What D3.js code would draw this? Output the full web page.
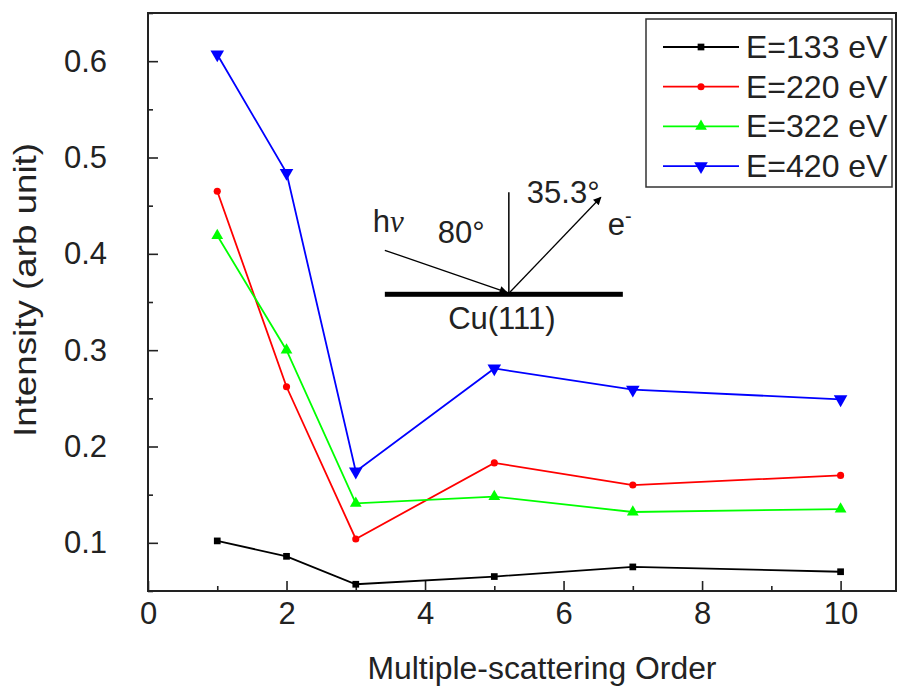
<!DOCTYPE html>
<html>
<head>
<meta charset="utf-8">
<script src="https://cdn.jsdelivr.net/npm/d3@7"></script>
<style>
  html, body { margin: 0; padding: 0; background: #fff; }
  svg { display: block; font-family: "Liberation Sans", Arial, sans-serif; }
</style>
</head>
<body>
<svg id="chart" width="897" height="688"></svg>
<script>
// multiple-scattering order
const orders = [1, 2, 3, 5, 7, 10]
// intensities (arb unit) per photon energy
const e133 = [0.102, 0.086, 0.057, 0.065, 0.075, 0.070]
const e220 = [0.465, 0.262, 0.104, 0.183, 0.160, 0.170]
const e322 = [0.419, 0.300, 0.141, 0.148, 0.132, 0.135]
const e420 = [0.607, 0.484, 0.174, 0.281, 0.259, 0.249]
const seriesNames = ['E=133 eV', 'E=220 eV', 'E=322 eV', 'E=420 eV']
const xTicks = [0, 2, 4, 6, 8, 10]
const xMinorTicks = [1, 3, 5, 7, 9]
const yTicks = [0.1, 0.2, 0.3, 0.4, 0.5, 0.6]
const yMinorTicks = [0.05, 0.15, 0.25, 0.35, 0.45, 0.55, 0.65]

const colors = ['#000000', '#ff0000', '#00ff00', '#0000ff']
const symbols = [
  { type: d3.symbolSquare, size: 45, rotate: 0 },
  { type: d3.symbolCircle, size: 40, rotate: 0 },
  { type: d3.symbolTriangle, size: 60, rotate: 0 },
  { type: d3.symbolTriangle, size: 80, rotate: 180 }
]
const series = [e133, e220, e322, e420].map((vals, i) => ({
  name: seriesNames[i],
  color: colors[i],
  symbol: symbols[i],
  points: orders.map((o, j) => ({ x: o, y: vals[j] }))
}))

const plotLeft = 148, plotRight = 896, plotTop = 13, plotBottom = 591
const textColor = '#222'

const svg = d3.select('#chart')
const x = d3.scaleLinear().domain([0, 10.8]).range([plotLeft, plotRight])
const y = d3.scaleLinear().domain([0.05, 0.65]).range([plotBottom, plotTop])

// axes, ticks pointing inward
svg.append('g')
  .attr('transform', `translate(0,${plotBottom})`)
  .call(d3.axisBottom(x).tickValues(xTicks).tickSize(-10).tickPadding(11).tickFormat(d3.format('d')))
svg.append('g')
  .attr('transform', `translate(0,${plotBottom})`)
  .call(d3.axisBottom(x).tickValues(xMinorTicks).tickSize(-5).tickFormat(''))

svg.append('g')
  .attr('transform', `translate(${plotLeft},0)`)
  .call(d3.axisLeft(y).tickValues(yTicks).tickSize(-10).tickPadding(41).tickFormat(d3.format('.1f')))
svg.append('g')
  .attr('transform', `translate(${plotLeft},0)`)
  .call(d3.axisLeft(y).tickValues(yMinorTicks).tickSize(-5).tickFormat(''))

svg.selectAll('.domain').remove()
svg.selectAll('.tick line').attr('stroke', '#222').attr('stroke-width', 1.6)
svg.selectAll('.tick text')
  .attr('font-size', 31)
  .attr('fill', textColor)
  .attr('font-family', '"Liberation Sans", Arial, sans-serif')

// frame
svg.append('rect')
  .attr('x', plotLeft).attr('y', plotTop)
  .attr('width', plotRight - plotLeft).attr('height', plotBottom - plotTop)
  .attr('fill', 'none')
  .attr('stroke', '#222')
  .attr('stroke-width', 2)

// axis titles
svg.append('text')
  .attr('x', 542)
  .attr('y', 679)
  .attr('text-anchor', 'middle')
  .attr('font-size', 31)
  .attr('textLength', 349)
  .attr('lengthAdjust', 'spacingAndGlyphs')
  .attr('fill', textColor)
  .text('Multiple-scattering Order')

svg.append('text')
  .attr('transform', 'translate(36,290) rotate(-90)')
  .attr('text-anchor', 'middle')
  .attr('font-size', 32)
  .attr('textLength', 294)
  .attr('lengthAdjust', 'spacingAndGlyphs')
  .attr('fill', textColor)
  .text('Intensity (arb unit)')

// lines and markers
const line = d3.line().x(d => x(d.x)).y(d => y(d.y))
const sg = svg.append('g').selectAll('g.series')
  .data(series)
  .enter().append('g')
  .attr('class', 'series')

sg.append('path')
  .attr('d', d => line(d.points))
  .attr('fill', 'none')
  .attr('stroke', d => d.color)
  .attr('stroke-width', 1.8)

sg.each(function (s) {
  d3.select(this).selectAll('path.mark')
    .data(s.points)
    .enter().append('path')
    .attr('class', 'mark')
    .attr('d', d3.symbol().type(s.symbol.type).size(s.symbol.size))
    .attr('transform', d => `translate(${x(d.x)},${y(d.y)}) rotate(${s.symbol.rotate})`)
    .attr('fill', s.color)
})

// legend
const legend = svg.append('g')
legend.append('rect')
  .attr('x', 646).attr('y', 19)
  .attr('width', 246).attr('height', 168)
  .attr('fill', '#fff')
  .attr('stroke', '#333')
  .attr('stroke-width', 1.5)
const rows = legend.selectAll('g.row')
  .data(series)
  .enter().append('g')
  .attr('class', 'row')
  .attr('transform', (d, i) => `translate(0,${47 + i * 39.7})`)
rows.append('line')
  .attr('x1', 663).attr('x2', 739)
  .attr('y1', 0).attr('y2', 0)
  .attr('stroke', d => d.color)
  .attr('stroke-width', 1.8)
rows.append('path')
  .attr('d', d => d3.symbol().type(d.symbol.type).size(d.symbol.size)())
  .attr('transform', d => `translate(701,0) rotate(${d.symbol.rotate})`)
  .attr('fill', d => d.color)
rows.append('text')
  .attr('x', 746).attr('y', 11)
  .attr('font-size', 32)
  .attr('fill', textColor)
  .text(d => d.name)

// inset: geometry of the experiment
const defs = svg.append('defs')
defs.append('marker')
  .attr('id', 'arrow')
  .attr('viewBox', '0 0 10 10')
  .attr('refX', 9).attr('refY', 5)
  .attr('markerWidth', 10).attr('markerHeight', 8)
  .attr('markerUnits', 'userSpaceOnUse')
  .attr('orient', 'auto')
  .append('path')
  .attr('d', 'M0,0 L10,5 L0,10 Z')
  .attr('fill', '#000')

const inset = svg.append('g')
  .attr('transform', `translate(${x(5.21)},${y(0.358)})`)
inset.append('rect')
  .attr('x', -124).attr('y', -2.5)
  .attr('width', 238).attr('height', 5)
  .attr('fill', '#000')
inset.append('line')
  .attr('x1', 0).attr('y1', -102).attr('x2', 0).attr('y2', -1)
  .attr('stroke', '#000').attr('stroke-width', 1.5)
inset.append('line')
  .attr('x1', -124).attr('y1', -44).attr('x2', -2).attr('y2', -2)
  .attr('stroke', '#000').attr('stroke-width', 1.3)
  .attr('marker-end', 'url(#arrow)')
inset.append('line')
  .attr('x1', 1).attr('y1', -2).attr('x2', 92).attr('y2', -97)
  .attr('stroke', '#000').attr('stroke-width', 1.3)
  .attr('marker-end', 'url(#arrow)')

const hv = inset.append('text')
  .attr('x', -136).attr('y', -62)
  .attr('font-size', 31)
  .attr('fill', textColor)
hv.append('tspan').text('h')
hv.append('tspan')
  .attr('font-family', '"Liberation Serif", "Times New Roman", serif')
  .attr('font-style', 'italic')
  .text('ν')
inset.append('text')
  .attr('x', -71).attr('y', -51)
  .attr('font-size', 31)
  .attr('fill', textColor)
  .text('80°')
inset.append('text')
  .attr('x', 18).attr('y', -91)
  .attr('font-size', 31)
  .attr('fill', textColor)
  .text('35.3°')
const el = inset.append('text')
  .attr('x', 99).attr('y', -59)
  .attr('font-size', 31)
  .attr('fill', textColor)
el.append('tspan').text('e')
el.append('tspan')
  .attr('font-size', 20)
  .attr('dy', -12)
  .text('-')
inset.append('text')
  .attr('x', -7).attr('y', 35)
  .attr('text-anchor', 'middle')
  .attr('font-size', 31)
  .attr('fill', textColor)
  .text('Cu(111)')
</script>
</body>
</html>
